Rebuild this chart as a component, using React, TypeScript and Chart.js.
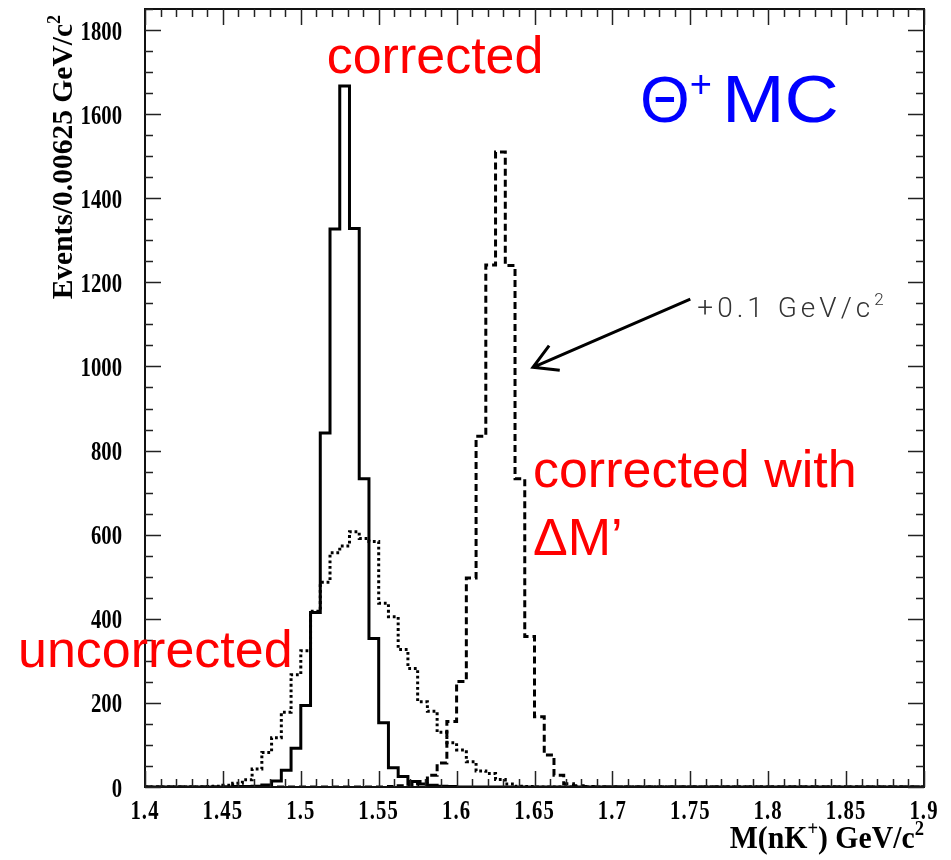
import { useEffect, useRef } from "react";
import { Chart, registerables } from "chart.js";

Chart.register(...registerables);

// Binning of the M(nK+) histograms
const X_MIN = 1.4;
const X_MAX = 1.9;
const BIN_WIDTH = 0.00625;
const Y_MAX = 1850;

// Axis ticks
const xMajorTicks = [1.4, 1.45, 1.5, 1.55, 1.6, 1.65, 1.7, 1.75, 1.8, 1.85, 1.9];
const xTickLabels = ["1.4", "1.45", "1.5", "1.55", "1.6", "1.65", "1.7", "1.75", "1.8", "1.85", "1.9"];
const xMinorStep = 0.01;
const yMajorTicks = [0, 200, 400, 600, 800, 1000, 1200, 1400, 1600, 1800];
const yTickLabels = ["0", "200", "400", "600", "800", "1000", "1200", "1400", "1600", "1800"];
const yMinorStep = 50;

// Events per bin; the first entry belongs to bin index *FirstBin
const correctedFirstBin = 9;
const correctedCounts = [
  1, 1, 2, 5, 14, 40, 92, 194, 415, 842, 1327, 1667, 1328, 733, 353, 153, 46, 25, 13, 7, 4, 2, 1,
];

const uncorrectedFirstBin = 6;
const uncorrectedCounts = [
  1, 2, 4, 9, 17, 43, 82, 117, 178, 267, 324, 418, 487, 557, 573, 607, 591, 584, 437, 405, 327,
  282, 203, 180, 130, 105, 88, 60, 38, 32, 18, 7, 2, 1,
];

const deltaMFirstBin = 25;
const deltaMCounts = [
  1, 3, 6, 13, 28, 57, 156, 251, 497, 834, 1241, 1510, 1240, 733, 358, 167, 76, 28, 8, 3, 1,
];

const BIN_COUNT = Math.round((X_MAX - X_MIN) / BIN_WIDTH);

// Left bin edges with their contents, closed by the upper edge of the last bin
function histogramPoints(firstBin: number, counts: number[]) {
  const pts: { x: number; y: number }[] = [];
  for (let k = 0; k < BIN_COUNT; k++) {
    const v = counts[k - firstBin] ?? 0;
    pts.push({ x: X_MIN + k * BIN_WIDTH, y: v });
  }
  pts.push({ x: X_MAX, y: pts[pts.length - 1].y });
  return pts;
}

type Part = { t: string; sup?: boolean };

function drawRich(
  ctx: CanvasRenderingContext2D,
  parts: Part[],
  x: number,
  y: number,
  family: string,
  weight: string,
  size: number,
  color: string,
  align: "left" | "right" | "center",
  scaleX = 1,
  supScale = 0.62,
  supRise = 0.42,
  spacing = 0
) {
  ctx.save();
  ctx.translate(x, y);
  ctx.scale(scaleX, 1);
  ctx.fillStyle = color;
  ctx.textBaseline = "alphabetic";
  ctx.textAlign = "left";
  (ctx as any).letterSpacing = `${spacing}px`;
  const fontFor = (p: Part) =>
    `${weight} ${p.sup ? Math.round(size * supScale) : size}px ${family}`;
  let total = 0;
  for (const p of parts) {
    ctx.font = fontFor(p);
    total += ctx.measureText(p.t).width;
  }
  let cx = align === "left" ? 0 : align === "right" ? -total : -total / 2;
  for (const p of parts) {
    ctx.font = fontFor(p);
    ctx.fillText(p.t, cx, p.sup ? -size * supRise : 0);
    cx += ctx.measureText(p.t).width;
  }
  ctx.restore();
}

const SERIF = '"Liberation Serif", "Times New Roman", serif';
const SANS = '"Liberation Sans", Arial, sans-serif';
const THIN = 'Roboto, "DejaVu Sans", sans-serif';
const LABEL_SIZE = 28;
const LABEL_SQUEEZE = 0.74;

const framePlugin = {
  id: "histFrame",
  afterDatasetsDraw(chart: any) {
    const ctx: CanvasRenderingContext2D = chart.ctx;
    const { left, right, top, bottom } = chart.chartArea;
    const xs = chart.scales.x;
    const ys = chart.scales.y;

    ctx.save();
    // frame
    ctx.strokeStyle = "#111";
    ctx.lineWidth = 2;
    ctx.strokeRect(left, top, right - left, bottom - top);

    // ticks pointing inwards on all four sides
    ctx.lineWidth = 1.5;
    ctx.strokeStyle = "#222";
    const isMajor = (v: number, list: number[], eps: number) => list.some((m) => Math.abs(m - v) < eps);
    const nX = Math.round((X_MAX - X_MIN) / xMinorStep);
    for (let i = 0; i <= nX; i++) {
      const v = X_MIN + i * xMinorStep;
      const px = Math.round(xs.getPixelForValue(v)) + 0.5;
      const len = isMajor(v, xMajorTicks, 1e-6) ? 16 : 8;
      ctx.beginPath();
      ctx.moveTo(px, bottom);
      ctx.lineTo(px, bottom - len);
      ctx.moveTo(px, top);
      ctx.lineTo(px, top + len);
      ctx.stroke();
    }
    const nY = Math.floor(Y_MAX / yMinorStep);
    for (let i = 0; i <= nY; i++) {
      const v = i * yMinorStep;
      const py = Math.round(ys.getPixelForValue(v)) + 0.5;
      const len = isMajor(v, yMajorTicks, 1e-6) ? 16 : 8;
      ctx.beginPath();
      ctx.moveTo(left, py);
      ctx.lineTo(left + len, py);
      ctx.moveTo(right, py);
      ctx.lineTo(right - len, py);
      ctx.stroke();
    }

    // tick labels
    xMajorTicks.forEach((v, i) => {
      drawRich(ctx, [{ t: xTickLabels[i] }], xs.getPixelForValue(v), bottom + 32, SERIF, "bold", LABEL_SIZE, "#000", "center", LABEL_SQUEEZE, 0.62, 0.42, 1.5);
    });
    yMajorTicks.forEach((v, i) => {
      drawRich(ctx, [{ t: yTickLabels[i] }], left - 23, ys.getPixelForValue(v) + 9.5, SERIF, "bold", LABEL_SIZE, "#000", "right", LABEL_SQUEEZE);
    });

    // axis titles
    drawRich(
      ctx,
      [{ t: "M(nK" }, { t: "+", sup: true }, { t: ") GeV/c" }, { t: "2", sup: true }],
      right,
      bottom + 61,
      SERIF,
      "bold",
      32,
      "#000",
      "right",
      0.93
    );
    ctx.save();
    ctx.translate(left - 73, top + 6);
    ctx.rotate(-Math.PI / 2);
    drawRich(
      ctx,
      [{ t: "Events/0.00625 GeV/c" }, { t: "2", sup: true }],
      0,
      0,
      SERIF,
      "bold",
      29.5,
      "#000",
      "right",
      1
    );
    ctx.restore();

    // annotations
    const P = (x: number, y: number) => [xs.getPixelForValue(x), ys.getPixelForValue(y)];
    let [ax, ay] = P(1.5166, 1698);
    drawRich(ctx, [{ t: "corrected" }], ax, ay, SANS, "normal", 52, "#ff0000", "left");
    [ax, ay] = P(1.649, 713);
    drawRich(ctx, [{ t: "corrected with" }], ax, ay, SANS, "normal", 52, "#ff0000", "left");
    [ax, ay] = P(1.649, 552);
    drawRich(ctx, [{ t: "\u0394M\u2019" }], ax, ay, SANS, "normal", 52, "#ff0000", "left");
    [ax, ay] = P(1.3185, 285);
    drawRich(ctx, [{ t: "uncorrected" }], ax, ay, SANS, "normal", 52, "#ff0000", "left");
    [ax, ay] = P(1.7177, 1581);
    drawRich(ctx, [{ t: "\u0398" }, { t: "+", sup: true }], ax, ay, SANS, "normal", 64, "#0000ff", "left", 1, 0.6, 0.4);
    [ax, ay] = P(1.7703, 1581);
    drawRich(ctx, [{ t: "MC" }], ax, ay, SANS, "normal", 66, "#0000ff", "left", 1.14);
    [ax, ay] = P(1.7545, 1118);
    drawRich(ctx, [{ t: "+0.1 GeV/c" }, { t: "2", sup: true }], ax, ay, THIN, "300", 28, "#333", "left", 1, 0.62, 0.42, 4);

    // shift arrow
    const [tx, tyy] = P(1.75, 1160);
    const [hx, hy] = P(1.649, 998);
    ctx.strokeStyle = "#000";
    ctx.lineWidth = 3;
    ctx.lineCap = "butt";
    ctx.beginPath();
    ctx.moveTo(tx, tyy);
    ctx.lineTo(hx, hy);
    const ang = Math.atan2(hy - tyy, hx - tx);
    const headLen = 27;
    const spread = 0.52;
    ctx.moveTo(hx - headLen * Math.cos(ang - spread), hy - headLen * Math.sin(ang - spread));
    ctx.lineTo(hx, hy);
    ctx.lineTo(hx - headLen * Math.cos(ang + spread), hy - headLen * Math.sin(ang + spread));
    ctx.stroke();
    ctx.restore();
  },
};

export default function App() {
  const canvasRef = useRef<HTMLCanvasElement | null>(null);

  useEffect(() => {
    if (!canvasRef.current) return;
    const common = {
      pointRadius: 0,
      fill: false,
      stepped: "before" as const,
      borderJoinStyle: "miter" as const,
      borderCapStyle: "butt" as const,
      borderColor: "#000",
    };
    const chart = new Chart(canvasRef.current, {
      type: "line",
      data: {
        datasets: [
          { ...common, label: "corrected", data: histogramPoints(correctedFirstBin, correctedCounts), borderWidth: 3 },
          { ...common, label: "corrected with \u0394M\u2019", data: histogramPoints(deltaMFirstBin, deltaMCounts), borderWidth: 3, borderDash: [7, 4] },
          { ...common, label: "uncorrected", data: histogramPoints(uncorrectedFirstBin, uncorrectedCounts), borderWidth: 3, borderDash: [2.8, 2.8] },
        ],
      },
      options: {
        animation: false,
        responsive: false,
        devicePixelRatio: 1,
        layout: { padding: { left: 145, top: 9, right: 27, bottom: 73 } },
        plugins: { legend: { display: false }, tooltip: { enabled: false } },
        scales: {
          x: { type: "linear", min: X_MIN, max: X_MAX, display: false },
          y: { type: "linear", min: 0, max: Y_MAX, display: false },
        },
      },
      plugins: [framePlugin],
    });
    return () => chart.destroy();
  }, []);

  return (
    <div style={{ position: "fixed", left: 0, top: 0, width: 951, height: 860, background: "#fff" }}>
      <canvas ref={canvasRef} width={951} height={860} style={{ width: 951, height: 860, display: "block" }} />
    </div>
  );
}
